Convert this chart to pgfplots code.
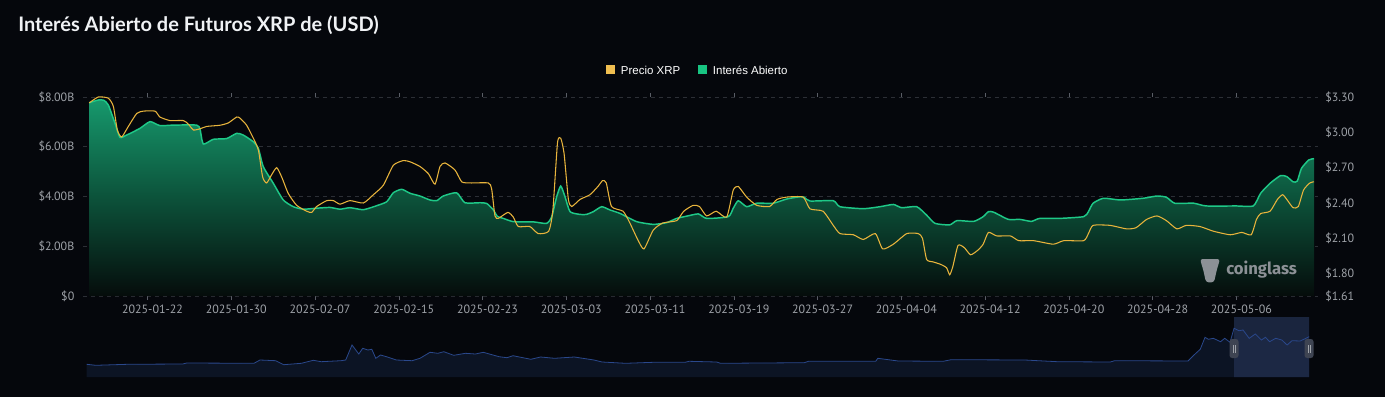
\documentclass[border=0pt]{standalone}
\usepackage{fontspec}
\setmainfont{Liberation Sans}
\newfontfamily\titlefont{Lato}
\newfontfamily\tickfont{PT Sans}
\newfontfamily\wmfont{Fira Sans}
\usepackage{pgfplots}
\pgfplotsset{compat=1.18}
\usepackage{pgfplotstable}

\definecolor{bg}{RGB}{5,7,12}
\definecolor{oigreen}{RGB}{30,200,135}
\definecolor{pxyellow}{RGB}{232,180,60}
\definecolor{legyellow}{RGB}{240,190,80}
\definecolor{leggreen}{RGB}{24,196,130}
\definecolor{gridc}{RGB}{44,47,54}
\definecolor{tickc}{RGB}{158,162,168}
\definecolor{tickm}{RGB}{90,94,102}
\definecolor{gtop}{RGB}{22,152,108}
\definecolor{gmid}{RGB}{12,82,58}
\definecolor{gbot}{RGB}{5,12,11}
\definecolor{navyfill}{RGB}{12,20,36}
\definecolor{navyline}{RGB}{42,72,140}
\definecolor{selc}{RGB}{34,48,80}
\definecolor{handlec}{RGB}{62,68,82}
\definecolor{wm}{RGB}{140,145,150}

% day offset from 2025-01-22, open interest in billions USD
\pgfplotstableread{
d B
-5.58 7.77
-4.72 7.88
-4.20 7.87
-3.76 7.68
-3.12 6.94
-2.65 6.38
-2.01 6.47
-0.74 6.74
0.22 7.01
1.17 6.85
2.45 6.87
4.68 6.87
5.00 6.70
5.31 6.11
6.27 6.30
7.54 6.33
8.50 6.54
9.13 6.47
10.09 6.20
10.57 5.94
11.04 5.20
12.00 4.53
12.95 3.86
13.91 3.59
14.86 3.49
16.14 3.53
17.41 3.56
18.37 3.49
19.32 3.55
20.60 3.47
21.87 3.63
22.83 3.79
23.46 4.15
24.26 4.29
25.05 4.13
26.00 4.02
26.96 3.86
27.60 3.83
28.23 4.02
29.51 4.15
30.30 3.75
31.74 3.75
32.38 3.72
33.00 3.47
33.40 3.20
33.97 3.12
34.92 2.99
36.83 2.98
38.10 2.92
38.59 3.19
39.06 3.99
39.45 4.42
39.86 3.99
40.34 3.39
41.29 3.28
41.90 3.28
42.56 3.39
43.36 3.59
44.15 3.46
45.11 3.32
46.70 2.99
48.29 2.88
49.57 2.95
50.52 3.12
51.48 3.21
52.59 3.30
53.39 3.12
55.45 3.19
55.93 3.53
56.41 3.83
57.21 3.59
58.17 3.73
59.75 3.73
61.03 3.90
62.30 3.99
62.70 3.97
63.26 3.82
65.48 3.83
66.12 3.59
68.35 3.51
69.94 3.59
71.22 3.68
72.01 3.55
73.45 3.59
74.40 3.25
75.20 2.92
76.60 2.86
77.30 3.03
78.90 3.00
79.80 3.19
80.30 3.39
80.80 3.37
82.20 3.08
83.30 3.08
84.40 3.00
85.20 3.12
87.10 3.12
89.40 3.19
89.85 3.39
90.30 3.73
91.30 3.93
92.90 3.86
95.10 3.93
96.40 4.02
97.30 3.97
98.10 3.73
99.90 3.73
101.10 3.62
104.00 3.62
105.60 3.62
106.30 4.13
107.20 4.53
108.20 4.84
108.80 4.80
109.40 4.59
109.80 4.62
110.20 5.13
110.90 5.47
111.40 5.52
}\oidata

% day offset, XRP price in USD
\pgfplotstableread{
d P
-5.58 3.25
-4.72 3.30
-3.76 3.29
-3.28 3.22
-2.90 3.02
-2.49 2.96
-1.85 3.05
-1.05 3.16
-0.42 3.18
0.70 3.18
1.17 3.13
2.13 3.10
3.40 3.10
3.88 3.07
4.36 3.02
5.00 3.03
5.63 3.05
6.90 3.06
7.70 3.08
8.50 3.13
8.82 3.12
9.45 3.06
10.09 2.95
10.57 2.85
10.98 2.62
11.36 2.57
11.84 2.64
12.32 2.70
12.80 2.62
13.43 2.48
14.23 2.38
15.19 2.33
15.66 2.32
16.14 2.37
17.10 2.42
17.73 2.42
18.37 2.39
19.32 2.42
20.60 2.40
21.55 2.47
22.50 2.55
23.46 2.72
24.41 2.76
25.05 2.75
26.00 2.71
26.80 2.65
27.44 2.56
27.92 2.71
28.40 2.74
29.35 2.68
29.99 2.58
30.78 2.57
32.53 2.57
32.85 2.52
33.17 2.29
33.50 2.27
34.40 2.32
34.92 2.28
35.40 2.20
36.50 2.20
37.30 2.14
38.30 2.16
38.70 2.34
39.14 2.91
39.45 2.95
39.77 2.82
40.18 2.43
40.50 2.37
41.29 2.43
42.24 2.47
43.00 2.54
43.45 2.59
43.80 2.57
44.30 2.37
45.40 2.33
46.00 2.24
46.80 2.09
47.40 2.01
48.29 2.17
49.20 2.23
50.52 2.25
51.20 2.33
52.10 2.38
52.70 2.37
53.39 2.29
54.30 2.33
55.30 2.28
55.93 2.51
56.41 2.54
57.21 2.45
58.17 2.38
59.40 2.37
60.10 2.43
61.03 2.45
62.60 2.45
63.26 2.35
64.50 2.33
65.48 2.21
66.12 2.14
67.40 2.13
68.35 2.09
69.50 2.14
70.20 2.01
71.22 2.05
72.50 2.14
73.60 2.14
74.00 2.10
74.40 1.92
75.00 1.90
75.70 1.88
76.30 1.85
76.60 1.79
76.90 1.86
77.40 2.04
78.00 2.02
78.60 1.96
79.30 2.00
79.80 2.05
80.30 2.15
81.10 2.12
82.40 2.12
83.20 2.08
84.60 2.08
86.50 2.05
87.50 2.08
89.40 2.08
89.85 2.14
90.30 2.21
91.90 2.21
93.50 2.18
94.40 2.19
95.40 2.26
96.40 2.29
97.30 2.25
98.30 2.18
99.20 2.21
100.50 2.20
101.80 2.16
103.40 2.13
104.50 2.15
105.40 2.13
105.90 2.26
106.30 2.31
107.20 2.33
107.90 2.43
108.40 2.47
108.80 2.43
109.40 2.36
109.90 2.37
110.40 2.51
111.00 2.57
111.40 2.58
}\pxdata

% overview slider (position, relative height)
\pgfplotstableread{
x h
86.7 12.7
95.8 11.7
127.4 12.7
182.8 13
186.8 14
254 13.7
260 17
275.7 16.3
283.6 12.3
301.4 13.7
313.3 16.7
321.2 15.3
341 16.3
345.7 17
352 32
358.8 23
362.7 28.7
367.9 27
371.8 27.7
375.8 18.7
380.5 22
386.4 20.3
396.3 17
412.1 16.3
420 18.7
430 24.7
437.9 23.7
443.8 25.3
453.7 21.7
465.5 23.7
475.4 23
483.3 24.7
499.1 20.3
507 19.3
513 21.3
530.8 17.7
540.6 20
554.5 18.7
574.3 20
594 17
602 15
625.7 13.7
653.3 14.7
685 14.7
689 15.7
716.5 15
720.6 13.7
804.3 14.3
808.4 15.7
875.7 15.7
877.8 18.7
898.2 16
943 15.7
951.2 17.3
1024.7 17
1057.3 15.3
1110.4 15
1114.5 16.3
1188 16
1194 22
1200.2 27.7
1205 39.7
1208.4 37.7
1213.3 38.7
1220.6 35.3
1224.7 38.7
1230 34.7
1234 48.7
1239 46.3
1243 47
1249.2 38.7
1255.3 43
1261.4 37
1265.5 39.7
1269.6 35.3
1275.7 38.7
1281.8 37
1287.1 32
1292 36.3
1300.2 36
1309.2 40.3
}\sliderdata

\begin{document}
\begin{tikzpicture}
\fill[bg] (0,0) rectangle (1038.75pt,297.75pt);
\useasboundingbox (0,0) rectangle (1038.75pt,297.75pt);

% title
\node[anchor=base west, inner sep=0pt, text={rgb,255:red,240;green,242;blue,245},
      font=\titlefont\bfseries\fontsize{15}{17}\selectfont] at (13.5pt,274pt)
      {Interés Abierto de Futuros XRP de (USD)};

% legend
\fill[legyellow] (454.5pt,241.9pt) rectangle (461.3pt,248.7pt);
\node[anchor=west, inner sep=0pt, text=white, font=\fontsize{8.6}{10}\selectfont] at (465.5pt,245.3pt) {Precio XRP};
\fill[leggreen] (523.5pt,241.9pt) rectangle (530.3pt,248.7pt);
\node[anchor=west, inner sep=0pt, text=white, font=\fontsize{8.6}{10}\selectfont] at (534.5pt,245.3pt) {Interés Abierto};

\begin{axis}[
  at={(62.25pt,75.75pt)}, anchor=south west, scale only axis,
  width=926.25pt, height=149.25pt,
  xmin=-6.18, xmax=111.78, ymin=0, ymax=8,
  axis line style={draw=none},
  ytick={0,2,4,6,8},
  yticklabels={\$0,\$2.00B,\$4.00B,\$6.00B,\$8.00B},
  xtick={0,8,...,104},
  xticklabels={2025-01-22,2025-01-30,2025-02-07,2025-02-15,2025-02-23,2025-03-03,2025-03-11,2025-03-19,2025-03-27,2025-04-04,2025-04-12,2025-04-20,2025-04-28,2025-05-06},
  ymajorgrids,
  grid style={gridc, dash pattern=on 3pt off 3pt, line width=0.6pt},
  ytick style={draw=none},
  xtick style={draw=tickm, line width=0.6pt},
  tick align=outside, major tick length=3pt,
  ticklabel style={font=\tickfont\fontsize{9}{10}\selectfont, text=tickc},
  xticklabel style={xshift=3.6pt},
]
\addplot[draw=none, top color=gtop, bottom color=gbot, middle color=gmid, smooth, tension=0.35] table[x=d, y=B] {\oidata} \closedcycle;
\addplot[oigreen, line width=1.1pt, smooth, tension=0.35] table[x=d, y=B] {\oidata};
\end{axis}

\begin{axis}[
  at={(62.25pt,75.75pt)}, anchor=south west, scale only axis,
  width=926.25pt, height=149.25pt,
  xmin=-6.18, xmax=111.78, ymin=1.61, ymax=3.30,
  axis x line=none, axis y line*=right,
  axis line style={draw=none},
  ytick={1.61,1.80,2.10,2.40,2.70,3.00,3.30},
  yticklabels={\$1.61,\$1.80,\$2.10,\$2.40,\$2.70,\$3.00,\$3.30},
  ytick style={draw=none},
  yticklabel style={font=\tickfont\fontsize{9}{10}\selectfont, text=tickc, xshift=2pt},
]
\addplot[pxyellow, line width=0.8pt, smooth, tension=0.35] table[x=d, y=P] {\pxdata};
\end{axis}

% watermark
\fill[wm, rounded corners=2pt] (900pt,103.5pt) -- (915pt,103.5pt) -- (912.5pt,95pt) -- (910.5pt,86pt) -- (904.5pt,86pt) -- (902.5pt,95pt) -- cycle;
\node[anchor=west, inner sep=0pt, text=wm, font=\wmfont\bfseries\fontsize{12.5}{14}\selectfont] at (919.5pt,95.5pt) {coinglass};

% overview slider
\begin{axis}[
  at={(64.5pt,15pt)}, anchor=south west, scale only axis,
  width=918pt, height=45pt,
  xmin=86, xmax=1310, ymin=0, ymax=60,
  axis lines=none, xtick=\empty, ytick=\empty, clip=false,
]
\addplot[draw=none, fill=navyfill] table[x=x, y=h] {\sliderdata} \closedcycle;
\addplot[draw=none, fill=selc, fill opacity=0.75] coordinates {(1234,0) (1234,60) (1309,60) (1309,0)} \closedcycle;
\addplot[navyline, line width=0.6pt] table[x=x, y=h] {\sliderdata};
\draw[fill=handlec, draw=none, rounded corners=2pt] (axis cs:1229.5,19) rectangle (axis cs:1238.5,38);
\draw[fill=handlec, draw=none, rounded corners=2pt] (axis cs:1304.5,19) rectangle (axis cs:1313.5,38);
\draw[tickc, line width=0.4pt] (axis cs:1233,24.5) -- (axis cs:1233,32.5) (axis cs:1235,24.5) -- (axis cs:1235,32.5);
\draw[tickc, line width=0.4pt] (axis cs:1308,24.5) -- (axis cs:1308,32.5) (axis cs:1310,24.5) -- (axis cs:1310,32.5);
\end{axis}
\end{tikzpicture}
\end{document}
